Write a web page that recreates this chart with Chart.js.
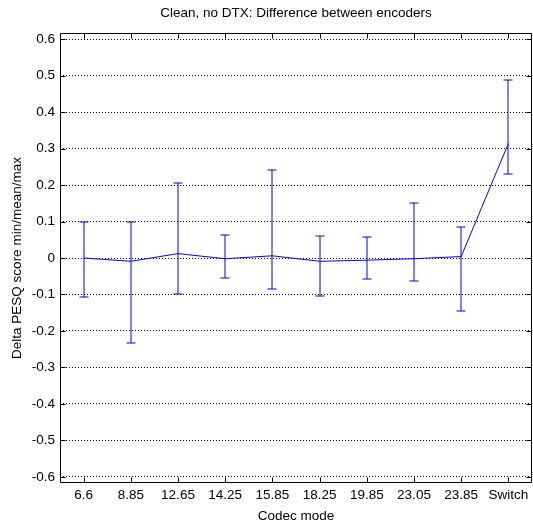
<!DOCTYPE html>
<html><head><meta charset="utf-8">
<script src="https://cdn.jsdelivr.net/npm/chart.js@4"></script>
<style>html,body{margin:0;padding:0;background:#fff;} #wrap{width:533px;height:526px;position:relative;}</style>
</head><body><div id="wrap"><canvas id="c" width="533" height="526"></canvas></div>
<script>
const chartTitle = 'Clean, no DTX: Difference between encoders';
const xLabel = 'Codec mode';
const yLabel = 'Delta PESQ score min/mean/max';
const categories = ['6.6','8.85','12.65','14.25','15.85','18.25','19.85','23.05','23.85','Switch'];
const meanValues = [0.000,-0.009,0.012,-0.002,0.006,-0.009,-0.006,-0.002,0.004,0.314];
const maxValues  = [0.098,0.100,0.206,0.063,0.242,0.061,0.057,0.152,0.085,0.488];
const minValues  = [-0.106,-0.233,-0.098,-0.054,-0.085,-0.103,-0.058,-0.064,-0.145,0.230];
const yTicks = [-0.6,-0.5,-0.4,-0.3,-0.2,-0.1,0,0.1,0.2,0.3,0.4,0.5,0.6];
const FONT = '"Liberation Sans", Arial, sans-serif';
const FS = 13.5;

const decorPlugin = {
  id: 'decor',
  beforeDatasetsDraw(chart) {
    const {ctx, scales: {x, y}} = chart;
    ctx.save();
    ctx.strokeStyle = '#0000ff';
    ctx.lineWidth = 1;
    const cap = 4.5;
    categories.forEach((c, i) => {
      const px = Math.round(x.getPixelForValue(i));
      const pt = Math.round(y.getPixelForValue(maxValues[i]));
      const pb = Math.round(y.getPixelForValue(minValues[i]));
      ctx.beginPath();
      ctx.moveTo(px, pt); ctx.lineTo(px, pb);
      ctx.moveTo(px - cap, pt); ctx.lineTo(px + cap, pt);
      ctx.moveTo(px - cap, pb); ctx.lineTo(px + cap, pb);
      ctx.stroke();
    });
    ctx.restore();
  },
  afterDraw(chart) {
    const {ctx, chartArea: a, scales: {x, y}} = chart;
    ctx.save();
    ctx.strokeStyle = '#000';
    ctx.lineWidth = 1;
    const L = Math.round(a.left) + 0.5, R = Math.round(a.right) - 0.5;
    const T = Math.round(a.top) + 0.5, B = Math.round(a.bottom) - 0.5;
    ctx.beginPath();
    ctx.rect(L, T, R - L, B - T);
    ctx.stroke();
    const tl = 5;
    ctx.beginPath();
    categories.forEach((c, i) => {
      const px = Math.round(x.getPixelForValue(i)) + 0.5;
      ctx.moveTo(px, B); ctx.lineTo(px, B - tl);
      ctx.moveTo(px, T); ctx.lineTo(px, T + tl);
    });
    yTicks.forEach(v => {
      const py = Math.round(y.getPixelForValue(v)) + 0.5;
      ctx.moveTo(L, py); ctx.lineTo(L + tl, py);
      ctx.moveTo(R, py); ctx.lineTo(R - tl, py);
    });
    ctx.stroke();
    ctx.fillStyle = '#000';
    ctx.font = FS + 'px ' + FONT;
    ctx.textAlign = 'center';
    ctx.textBaseline = 'middle';
    ctx.fillText(chartTitle, (a.left + a.right) / 2, 13);
    ctx.restore();
  }
};

new Chart(document.getElementById('c'), {
  type: 'line',
  data: {
    labels: categories,
    datasets: [{
      data: meanValues,
      borderColor: '#0000ff',
      borderWidth: 1,
      pointRadius: 0,
      tension: 0,
      fill: false
    }]
  },
  options: {
    responsive: false,
    devicePixelRatio: 1,
    animation: false,
    layout: {padding: {top: 33, right: 1, left: 0, bottom: 0}},
    plugins: {legend: {display: false}, tooltip: {enabled: false}, title: {display: false}},
    scales: {
      x: {
        type: 'category',
        offset: true,
        grid: {display: false, drawTicks: false},
        border: {display: false},
        ticks: {color: '#000', font: {family: FONT, size: FS}, padding: 4, maxRotation: 0, autoSkip: false},
        title: {display: true, text: xLabel, color: '#000', font: {family: FONT, size: FS}, padding: {top: 1, bottom: 2}},
        afterFit(s) { s.height = 43; }
      },
      y: {
        type: 'linear',
        min: -0.617, max: 0.617,
        afterBuildTicks(s) { s.ticks = yTicks.map(v => ({value: v})); },
        grid: {color: '#000', lineWidth: 1, drawTicks: false},
        border: {display: false, dash: [1, 2]},
        ticks: {
          color: '#000', font: {family: FONT, size: FS}, padding: 5,
          callback: v => (Math.abs(v) < 1e-9 ? '0' : (Math.round(v * 10) / 10).toString())
        },
        title: {display: true, text: yLabel, color: '#000', font: {family: FONT, size: FS}, padding: {top: 9, bottom: 2}},
        afterFit(s) { s.width = 60; }
      }
    }
  },
  plugins: [decorPlugin]
});
</script></body></html>
